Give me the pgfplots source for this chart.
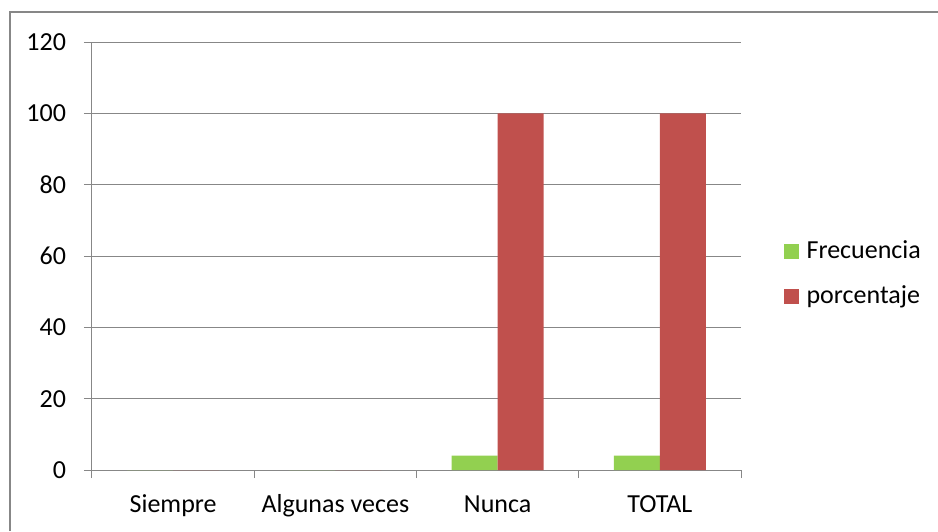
\documentclass[border=0pt]{standalone}
\usepackage{pgfplots}
\pgfplotsset{compat=1.18}
\usepackage{fontspec}
\setmainfont{Carlito}
\definecolor{frec}{HTML}{92D050}
\definecolor{porc}{HTML}{C0504D}
\definecolor{gridc}{HTML}{878787}
\begin{document}
\begin{tikzpicture}
\useasboundingbox (0,0) rectangle (469pt,265.5pt);
\draw[gridc, line width=0.6pt] (5pt,0pt) -- (5pt,259.5pt) -- (469pt,259.5pt);
\begin{axis}[
  at={(46pt,30.5pt)}, anchor=south west,
  width=324.5pt, height=214pt, scale only axis,
  ybar=0pt, bar width=23pt,
  xmin=-0.5, xmax=3.5, ymin=0, ymax=120,
  ytick={0,20,...,120},
  xtick={-0.5,0.5,1.5,2.5,3.5}, xticklabels={},
  extra x ticks={0,1,2,3},
  extra x tick labels={Siempre,Algunas veces,Nunca,TOTAL},
  extra x tick style={major tick length=0pt, grid=none},
  axis lines=left, axis line style={-, gridc, line width=0.5pt},
  tick align=outside, major tick length=4pt,
  tick style={gridc, line width=0.5pt},
  ymajorgrids, major grid style={gridc, line width=0.5pt},
  /pgf/number format/assume math mode=true,
  font=\fontsize{13}{15.6}\selectfont,
  yticklabel style={xshift=-5.5pt},
  xticklabel style={yshift=-10pt, text height=0.75em, text depth=0.25em},
  legend style={at={(1.065,0.458)}, anchor=west, draw=none, fill=none,
    inner sep=0pt, row sep=10pt,
    nodes={inner sep=1pt, inner xsep=2pt, anchor=west}, font=\fontsize{13}{15.6}\selectfont},
  legend cell align=left,
  legend image code/.code={\fill[#1] (0pt,-3.75pt) rectangle (7.5pt,3.75pt); \path (9.5pt,0pt);},
]
\addplot[fill=frec, draw=none] coordinates {(0,0) (1,0) (2,4) (3,4)};
\addplot[fill=porc, draw=none] coordinates {(0,0) (1,0) (2,100) (3,100)};
\legend{Frecuencia,porcentaje}
\end{axis}
\end{tikzpicture}
\end{document}
